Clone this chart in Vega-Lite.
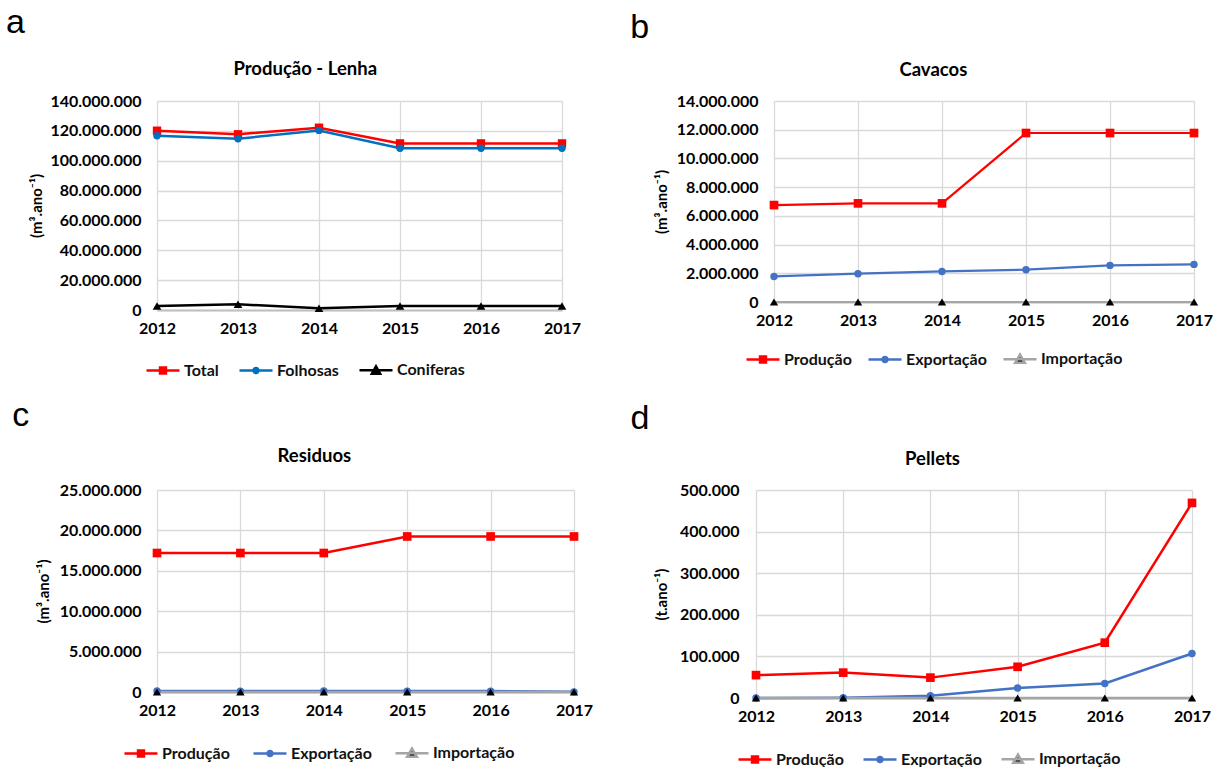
{
  "$schema": "https://vega.github.io/schema/vega-lite/v6.json",
  "padding": {"left": 5, "top": 5, "right": 0, "bottom": 0},
  "background": "white",
  "config": {
    "locale": {"number": {"decimal": ",", "thousands": ".", "grouping": [3], "currency": ["", ""]}},
    "font": "Lato",
    "view": {"stroke": null},
    "axis": {
      "labelFont": "Lato", "labelFontWeight": "bold", "labelFontSize": 16, "labelColor": "#000000",
      "grid": true, "gridColor": "#D9D9D9", "gridWidth": 1.3, "ticks": false, "domain": false,
      "titleFont": "Lato", "titleFontWeight": "bold", "titleFontSize": 15, "titleColor": "#000000"
    },
    "axisX": {"domain": true, "domainColor": "#BFBFBF", "domainWidth": 2, "labelAngle": 0, "labelPadding": 10, "title": null},
    "axisY": {"labelPadding": 16, "titlePadding": 6},
    "title": {"font": "Lato", "fontSize": 18.5, "fontWeight": "bold", "color": "#000000", "frame": "bounds", "offset": 24},
    "legend": {
      "orient": "none", "direction": "horizontal", "title": null,
      "labelFont": "Lato", "labelFontWeight": "bold", "labelFontSize": 16, "labelColor": "#111111",
      "symbolSize": 1089, "symbolStrokeWidth": 2.5, "labelOffset": 3, "columnPadding": 15, "padding": 0, "labelLimit": 300
    }
  },
  "datasets": {
    "lenha": [
      {"year": "2012", "series": "Total", "value": 120100000},
      {"year": "2013", "series": "Total", "value": 117700000},
      {"year": "2014", "series": "Total", "value": 122100000},
      {"year": "2015", "series": "Total", "value": 111600000},
      {"year": "2016", "series": "Total", "value": 111600000},
      {"year": "2017", "series": "Total", "value": 111600000},
      {"year": "2012", "series": "Folhosas", "value": 116700000},
      {"year": "2013", "series": "Folhosas", "value": 114700000},
      {"year": "2014", "series": "Folhosas", "value": 120300000},
      {"year": "2015", "series": "Folhosas", "value": 108300000},
      {"year": "2016", "series": "Folhosas", "value": 108300000},
      {"year": "2017", "series": "Folhosas", "value": 108300000},
      {"year": "2012", "series": "Coniferas", "value": 2700000},
      {"year": "2013", "series": "Coniferas", "value": 3800000},
      {"year": "2014", "series": "Coniferas", "value": 1100000},
      {"year": "2015", "series": "Coniferas", "value": 2700000},
      {"year": "2016", "series": "Coniferas", "value": 2700000},
      {"year": "2017", "series": "Coniferas", "value": 2700000}
    ],
    "cavacos": [
      {"year": "2012", "series": "Produção", "value": 6750000},
      {"year": "2013", "series": "Produção", "value": 6870000},
      {"year": "2014", "series": "Produção", "value": 6870000},
      {"year": "2015", "series": "Produção", "value": 11770000},
      {"year": "2016", "series": "Produção", "value": 11770000},
      {"year": "2017", "series": "Produção", "value": 11770000},
      {"year": "2012", "series": "Exportação", "value": 1780000},
      {"year": "2013", "series": "Exportação", "value": 1970000},
      {"year": "2014", "series": "Exportação", "value": 2130000},
      {"year": "2015", "series": "Exportação", "value": 2250000},
      {"year": "2016", "series": "Exportação", "value": 2550000},
      {"year": "2017", "series": "Exportação", "value": 2620000},
      {"year": "2012", "series": "Importação", "value": 0},
      {"year": "2013", "series": "Importação", "value": 0},
      {"year": "2014", "series": "Importação", "value": 0},
      {"year": "2015", "series": "Importação", "value": 0},
      {"year": "2016", "series": "Importação", "value": 0},
      {"year": "2017", "series": "Importação", "value": 0}
    ],
    "residuos": [
      {"year": "2012", "series": "Produção", "value": 17200000},
      {"year": "2013", "series": "Produção", "value": 17200000},
      {"year": "2014", "series": "Produção", "value": 17200000},
      {"year": "2015", "series": "Produção", "value": 19250000},
      {"year": "2016", "series": "Produção", "value": 19250000},
      {"year": "2017", "series": "Produção", "value": 19250000},
      {"year": "2012", "series": "Exportação", "value": 120000},
      {"year": "2013", "series": "Exportação", "value": 110000},
      {"year": "2014", "series": "Exportação", "value": 120000},
      {"year": "2015", "series": "Exportação", "value": 110000},
      {"year": "2016", "series": "Exportação", "value": 110000},
      {"year": "2017", "series": "Exportação", "value": 20000},
      {"year": "2012", "series": "Importação", "value": 0},
      {"year": "2013", "series": "Importação", "value": 0},
      {"year": "2014", "series": "Importação", "value": 0},
      {"year": "2015", "series": "Importação", "value": 0},
      {"year": "2016", "series": "Importação", "value": 0},
      {"year": "2017", "series": "Importação", "value": 0}
    ],
    "pellets": [
      {"year": "2012", "series": "Produção", "value": 55000},
      {"year": "2013", "series": "Produção", "value": 61000},
      {"year": "2014", "series": "Produção", "value": 49000},
      {"year": "2015", "series": "Produção", "value": 75000},
      {"year": "2016", "series": "Produção", "value": 133000},
      {"year": "2017", "series": "Produção", "value": 469000},
      {"year": "2012", "series": "Exportação", "value": 0},
      {"year": "2013", "series": "Exportação", "value": 500},
      {"year": "2014", "series": "Exportação", "value": 5600},
      {"year": "2015", "series": "Exportação", "value": 24000},
      {"year": "2016", "series": "Exportação", "value": 35000},
      {"year": "2017", "series": "Exportação", "value": 107000},
      {"year": "2012", "series": "Importação", "value": 0},
      {"year": "2013", "series": "Importação", "value": 0},
      {"year": "2014", "series": "Importação", "value": 0},
      {"year": "2015", "series": "Importação", "value": 0},
      {"year": "2016", "series": "Importação", "value": 0},
      {"year": "2017", "series": "Importação", "value": 0}
    ]
  },
  "resolve": {"scale": {"stroke": "independent"}},
  "spacing": 19,
  "vconcat": [
    {
      "resolve": {"scale": {"stroke": "independent"}},
      "spacing": 49,
      "hconcat": [
        {
          "title": {"text": "a", "anchor": "start", "font": "Liberation Sans", "fontSize": 34, "fontWeight": "normal", "dx": -24, "offset": 20},
          "resolve": {"scale": {"stroke": "independent"}},
          "vconcat": [
            {
              "title": {"text": "Produção - Lenha", "offset": 15},
              "width": 405, "height": 209,
              "data": {"name": "lenha"},
              "encoding": {
                "x": {"field": "year", "type": "ordinal", "scale": {"type": "point", "padding": 0}},
                "y": {"field": "value", "type": "quantitative", "scale": {"domain": [0, 140000000], "nice": false}, "axis": {"values": [0, 20000000, 40000000, 60000000, 80000000, 100000000, 120000000, 140000000], "format": ",d", "title": "(m³.ano⁻¹)", "titlePadding": 5}}
              },
              "layer": [
                {
                  "mark": {"type": "line", "strokeWidth": 2.5},
                  "encoding": {
                    "stroke": {"field": "series", "type": "nominal", "sort": ["Total", "Folhosas", "Coniferas"],
                      "scale": {"domain": ["Total", "Folhosas", "Coniferas"], "range": ["#FF0000", "#0070C0", "#000000"]},
                      "legend": {"legendX": -12, "legendY": 251, "columnPadding": 15,
                        "encode": {"symbols": {"update": {
                          "shape": {"signal": "datum.value === 'Total' ? 'M-1,0H1M-0.18,-0.18H0.18V0.18H-0.18Z' : datum.value === 'Folhosas' ? 'M-1,0H1M0.15,0A0.15,0.15 0 1,1 -0.15,0A0.15,0.15 0 1,1 0.15,0Z' : 'M-1,0H1M0,-0.24L0.25,0.2H-0.25Z'"},
                          "fill": {"signal": "datum.value === 'Total' ? '#FF0000' : datum.value === 'Folhosas' ? '#0070C0' : '#000000'"}
                        }}}}
                    }
                  }
                },
                {"transform": [{"filter": "datum.series === 'Total'"}], "mark": {"type": "point", "filled": true, "opacity": 1, "shape": "square", "size": 70, "color": "#FF0000"}},
                {"transform": [{"filter": "datum.series === 'Folhosas'"}], "mark": {"type": "point", "filled": true, "opacity": 1, "shape": "circle", "size": 55, "color": "#0070C0"}},
                {"transform": [{"filter": "datum.series === 'Coniferas'"}], "mark": {"type": "point", "filled": true, "opacity": 1, "shape": "triangle-up", "size": 75, "color": "#000000"}}
              ]
            }
          ]
        },
        {
          "title": {"text": "b", "anchor": "start", "font": "Liberation Sans", "fontSize": 34, "fontWeight": "normal", "dx": -24, "offset": 16},
          "resolve": {"scale": {"stroke": "independent"}},
          "vconcat": [
            {
              "title": {"text": "Cavacos", "offset": 14},
              "width": 420, "height": 201,
              "data": {"name": "cavacos"},
              "encoding": {
                "x": {"field": "year", "type": "ordinal", "scale": {"type": "point", "padding": 0}},
                "y": {"field": "value", "type": "quantitative", "scale": {"domain": [0, 14000000], "nice": false}, "axis": {"values": [0, 2000000, 4000000, 6000000, 8000000, 10000000, 12000000, 14000000], "format": ",d", "title": "(m³.ano⁻¹)", "titlePadding": 7}}
              },
              "layer": [
                {
                  "mark": {"type": "line", "strokeWidth": 2.2},
                  "encoding": {
                    "stroke": {"field": "series", "type": "nominal", "sort": ["Produção", "Exportação", "Importação"],
                      "scale": {"domain": ["Produção", "Exportação", "Importação"], "range": ["#FF0000", "#4472C4", "#A5A5A5"]},
                      "legend": {"legendX": -29, "legendY": 240, "columnPadding": 11,
                        "encode": {"symbols": {"update": {
                          "shape": {"signal": "datum.value === 'Produção' ? 'M-1,0H1M-0.18,-0.18H0.18V0.18H-0.18Z' : datum.value === 'Exportação' ? 'M-1,0H1M0.15,0A0.15,0.15 0 1,1 -0.15,0A0.15,0.15 0 1,1 0.15,0Z' : 'M-1,0H1M0,-0.28L0.29,0.22H-0.29Z'"},
                          "fill": {"signal": "datum.value === 'Produção' ? '#FF0000' : datum.value === 'Exportação' ? '#4472C4' : '#000000'"}
                        }}}}
                    }
                  }
                },
                {"transform": [{"filter": "datum.series === 'Produção'"}], "mark": {"type": "point", "filled": true, "opacity": 1, "shape": "square", "size": 75, "color": "#FF0000"}},
                {"transform": [{"filter": "datum.series === 'Exportação'"}], "mark": {"type": "point", "filled": true, "opacity": 1, "shape": "circle", "size": 55, "color": "#4472C4"}},
                {"transform": [{"filter": "datum.series === 'Importação'"}], "mark": {"type": "point", "filled": true, "opacity": 1, "shape": "triangle-up", "size": 70, "color": "#000000"}}
              ]
            }
          ]
        }
      ]
    },
    {
      "resolve": {"scale": {"stroke": "independent"}},
      "spacing": 37,
      "hconcat": [
        {
          "title": {"text": "c", "anchor": "start", "font": "Liberation Sans", "fontSize": 34, "fontWeight": "normal", "dx": -24, "offset": 14},
          "resolve": {"scale": {"stroke": "independent"}},
          "vconcat": [
            {
              "title": {"text": "Residuos", "offset": 17},
              "width": 417, "height": 202,
              "data": {"name": "residuos"},
              "encoding": {
                "x": {"field": "year", "type": "ordinal", "scale": {"type": "point", "padding": 0}},
                "y": {"field": "value", "type": "quantitative", "scale": {"domain": [0, 25000000], "nice": false}, "axis": {"values": [0, 5000000, 10000000, 15000000, 20000000, 25000000], "format": ",d", "title": "(m³.ano⁻¹)", "titlePadding": 8}}
              },
              "layer": [
                {
                  "mark": {"type": "line", "strokeWidth": 2.5},
                  "encoding": {
                    "stroke": {"field": "series", "type": "nominal", "sort": ["Produção", "Exportação", "Importação"],
                      "scale": {"domain": ["Produção", "Exportação", "Importação"], "range": ["#FF0000", "#4472C4", "#A5A5A5"]},
                      "legend": {"legendX": -34, "legendY": 245, "columnPadding": 18,
                        "encode": {"symbols": {"update": {
                          "shape": {"signal": "datum.value === 'Produção' ? 'M-1,0H1M-0.18,-0.18H0.18V0.18H-0.18Z' : datum.value === 'Exportação' ? 'M-1,0H1M0.15,0A0.15,0.15 0 1,1 -0.15,0A0.15,0.15 0 1,1 0.15,0Z' : 'M-1,0H1M0,-0.28L0.29,0.22H-0.29Z'"},
                          "fill": {"signal": "datum.value === 'Produção' ? '#FF0000' : datum.value === 'Exportação' ? '#4472C4' : '#000000'"}
                        }}}}
                    }
                  }
                },
                {"transform": [{"filter": "datum.series === 'Produção'"}], "mark": {"type": "point", "filled": true, "opacity": 1, "shape": "square", "size": 75, "color": "#FF0000"}},
                {"transform": [{"filter": "datum.series === 'Exportação'"}], "mark": {"type": "point", "filled": true, "opacity": 1, "shape": "circle", "size": 55, "color": "#4472C4"}},
                {"transform": [{"filter": "datum.series === 'Importação'"}], "mark": {"type": "point", "filled": true, "opacity": 1, "shape": "triangle-up", "size": 70, "color": "#000000"}}
              ]
            }
          ]
        },
        {
          "title": {"text": "d", "anchor": "start", "font": "Liberation Sans", "fontSize": 34, "fontWeight": "normal", "dx": -24, "offset": 14},
          "resolve": {"scale": {"stroke": "independent"}},
          "vconcat": [
            {
              "title": {"text": "Pellets", "offset": 14},
              "width": 436, "height": 208,
              "data": {"name": "pellets"},
              "encoding": {
                "x": {"field": "year", "type": "ordinal", "scale": {"type": "point", "padding": 0}},
                "y": {"field": "value", "type": "quantitative", "scale": {"domain": [0, 500000], "nice": false}, "axis": {"values": [0, 100000, 200000, 300000, 400000, 500000], "format": ",d", "title": "(t.ano⁻¹)", "titlePadding": 10, "labelPadding": 17}}
              },
              "layer": [
                {
                  "mark": {"type": "line", "strokeWidth": 2.5},
                  "encoding": {
                    "stroke": {"field": "series", "type": "nominal", "sort": ["Produção", "Exportação", "Importação"],
                      "scale": {"domain": ["Produção", "Exportação", "Importação"], "range": ["#FF0000", "#4472C4", "#A5A5A5"]},
                      "legend": {"legendX": -19, "legendY": 251, "columnPadding": 14,
                        "encode": {"symbols": {"update": {
                          "shape": {"signal": "datum.value === 'Produção' ? 'M-1,0H1M-0.18,-0.18H0.18V0.18H-0.18Z' : datum.value === 'Exportação' ? 'M-1,0H1M0.15,0A0.15,0.15 0 1,1 -0.15,0A0.15,0.15 0 1,1 0.15,0Z' : 'M-1,0H1M0,-0.28L0.29,0.22H-0.29Z'"},
                          "fill": {"signal": "datum.value === 'Produção' ? '#FF0000' : datum.value === 'Exportação' ? '#4472C4' : '#000000'"}
                        }}}}
                    }
                  }
                },
                {"transform": [{"filter": "datum.series === 'Produção'"}], "mark": {"type": "point", "filled": true, "opacity": 1, "shape": "square", "size": 75, "color": "#FF0000"}},
                {"transform": [{"filter": "datum.series === 'Exportação'"}], "mark": {"type": "point", "filled": true, "opacity": 1, "shape": "circle", "size": 55, "color": "#4472C4"}},
                {"transform": [{"filter": "datum.series === 'Importação'"}], "mark": {"type": "point", "filled": true, "opacity": 1, "shape": "triangle-up", "size": 70, "color": "#000000"}}
              ]
            }
          ]
        }
      ]
    }
  ]
}
